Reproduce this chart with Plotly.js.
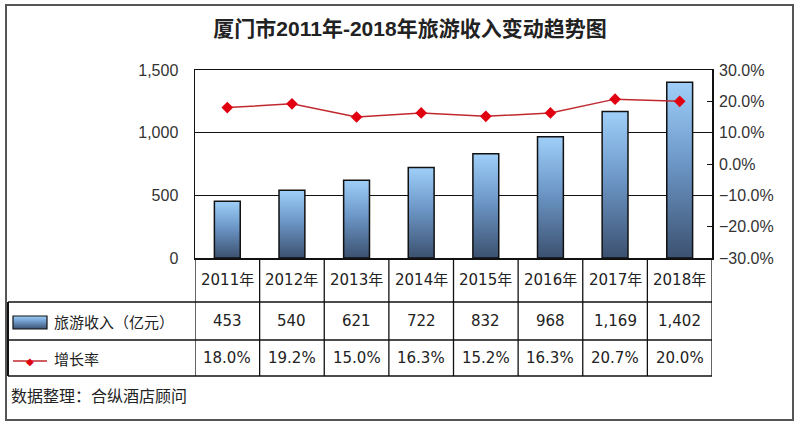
<!DOCTYPE html>
<html>
<head>
<meta charset="utf-8">
<script src="https://cdn.plot.ly/plotly-3.0.1.min.js"></script>
<style>
  body { margin: 0; background: #fff; }
  #chart { width: 800px; height: 427px; }
</style>
</head>
<body>
<div id="chart"></div>
<script>
// data
var years = ["2011年", "2012年", "2013年", "2014年", "2015年", "2016年", "2017年", "2018年"];
var revenue = [453, 540, 621, 722, 832, 968, 1169, 1402];
var growth = [18.0, 19.2, 15.0, 16.3, 15.2, 16.3, 20.7, 20.0];
var revenueName = "旅游收入（亿元）";
var growthName = "增长率";
var titleText = "厦门市2011年-2018年旅游收入变动趋势图";
var sourceText = "数据整理：合纵酒店顾问";

// plot area in pixels
var L = 195, R = 712, T = 70, B = 258;
function px(x) { return (x - L) / (R - L); }
function py(y) { return (B - y) / (B - T); }

var tableFont = { family: "DejaVu Sans, Noto Sans CJK SC", size: 15, color: "#222" };
var cjkFont = { family: "Noto Sans CJK SC", size: 15, color: "#222" };

var rowCat = 280, rowRev = 321, rowGrowth = 358;

var annotations = [];
var shapes = [];

years.forEach(function (yr, i) {
    annotations.push({ x: yr, xref: "x", y: py(rowCat), yref: "paper", text: yr,
        showarrow: false, font: tableFont, xanchor: "center", yanchor: "middle" });
    annotations.push({ x: yr, xref: "x", y: py(rowRev), yref: "paper",
        text: revenue[i].toLocaleString("en-US"),
        showarrow: false, font: tableFont, xanchor: "center", yanchor: "middle" });
    annotations.push({ x: yr, xref: "x", y: py(rowGrowth), yref: "paper",
        text: growth[i].toFixed(1) + "%",
        showarrow: false, font: tableFont, xanchor: "center", yanchor: "middle" });
});

// table grid: vertical lines between categories
for (var k = 0; k <= years.length; k++) {
    shapes.push({ type: "line", xref: "x", yref: "paper", x0: k - 0.5, x1: k - 0.5,
        y0: py(258), y1: py(376), line: { color: "#111", width: 1.3 } });
}
[302, 340, 376].forEach(function (y) {
    shapes.push({ type: "line", xref: "paper", yref: "paper", x0: px(8), x1: px(712),
        y0: py(y), y1: py(y), line: { color: "#111", width: 1.3 } });
});
shapes.push({ type: "line", xref: "paper", yref: "paper", x0: px(8), x1: px(8),
    y0: py(302), y1: py(376), line: { color: "#111", width: 2 } });

// outer frame
shapes.push({ type: "rect", xref: "paper", yref: "paper", x0: px(6), x1: px(793),
    y0: py(5), y1: py(420), line: { color: "#555", width: 2 } });

// legend symbols
var legendRectIndex = shapes.length;
shapes.push({ type: "rect", xref: "paper", yref: "paper", x0: px(13), x1: px(47),
    y0: py(316), y1: py(329), fillcolor: "#6a92c0", line: { color: "#111", width: 1.2 } });
shapes.push({ type: "line", xref: "paper", yref: "paper", x0: px(13), x1: px(47),
    y0: py(361), y1: py(361), line: { color: "#c0282e", width: 1.5 } });
annotations.push({ x: px(30), xref: "paper", y: py(361), yref: "paper", text: "◆",
    showarrow: false, font: { family: "DejaVu Sans", size: 10, color: "#e00010" },
    xanchor: "center", yanchor: "middle" });

annotations.push({ x: px(52), xref: "paper", y: py(rowRev), yref: "paper", text: revenueName,
    showarrow: false, font: cjkFont, xanchor: "left", yanchor: "middle" });
annotations.push({ x: px(52), xref: "paper", y: py(rowGrowth), yref: "paper", text: growthName,
    showarrow: false, font: cjkFont, xanchor: "left", yanchor: "middle" });
annotations.push({ x: px(9), xref: "paper", y: py(395), yref: "paper", text: sourceText,
    showarrow: false, font: { family: "Noto Sans CJK SC", size: 16, color: "#222" },
    xanchor: "left", yanchor: "middle" });

var traces = [{
    type: "bar",
    name: revenueName,
    x: years,
    y: revenue,
    marker: { color: "#6a92c0", line: { color: "#111", width: 1.5 } },
    hoverinfo: "none"
}, {
    type: "scatter",
    mode: "lines+markers",
    name: growthName,
    x: years,
    y: growth,
    yaxis: "y2",
    line: { color: "#c0282e", width: 1.5 },
    marker: { symbol: "diamond", size: 9, color: "#e00010" },
    hoverinfo: "none"
}];

var layout = {
    width: 800,
    height: 427,
    margin: { l: L, r: 800 - R, t: T, b: 427 - B },
    paper_bgcolor: "#fff",
    plot_bgcolor: "#fff",
    showlegend: false,
    bargap: 0.6,
    title: {
        text: titleText,
        x: 410 / 800, xref: "container", y: 1 - 29 / 427, yref: "container",
        xanchor: "center", yanchor: "middle",
        font: { family: "Liberation Sans, Noto Sans CJK SC", size: 21, weight: "bold", color: "#222" }
    },
    xaxis: {
        type: "category",
        range: [-0.5, years.length - 0.5],
        showticklabels: false,
        showgrid: false,
        zeroline: false,
        showline: true,
        mirror: true,
        linecolor: "#111",
        linewidth: 1.5
    },
    yaxis: {
        range: [0, 1500],
        dtick: 500,
        tickformat: ",",
        showgrid: true,
        gridcolor: "#111",
        gridwidth: 1.2,
        zeroline: false,
        showline: true,
        mirror: true,
        linecolor: "#111",
        linewidth: 1.5,
        ticks: "",
        ticklabelstandoff: 12,
        tickfont: { family: "Liberation Sans", size: 16, color: "#333" }
    },
    yaxis2: {
        overlaying: "y",
        side: "right",
        range: [-30, 30],
        dtick: 10,
        tickformat: ".1f",
        ticksuffix: "%",
        showgrid: false,
        zeroline: false,
        showline: false,
        ticks: "inside",
        ticklen: 5,
        tickcolor: "#111",
        ticklabelstandoff: 6,
        tickfont: { family: "Liberation Sans", size: 16, color: "#333" }
    },
    shapes: shapes,
    annotations: annotations
};

Plotly.newPlot("chart", traces, layout, { displayModeBar: false, staticPlot: true }).then(function (gd) {
    // light-to-dark vertical gradient on bars, like the original
    var svg = gd.querySelector(".main-svg");
    var ns = "http://www.w3.org/2000/svg";
    var defs = svg.querySelector("defs");
    var grad = document.createElementNS(ns, "linearGradient");
    grad.setAttribute("id", "barGrad");
    grad.setAttribute("x1", "0"); grad.setAttribute("y1", "0");
    grad.setAttribute("x2", "0"); grad.setAttribute("y2", "1");
    [["0", "#9fcff9"], ["0.45", "#6d98c8"], ["1", "#3c5170"]].forEach(function (s) {
        var stop = document.createElementNS(ns, "stop");
        stop.setAttribute("offset", s[0]);
        stop.setAttribute("stop-color", s[1]);
        grad.appendChild(stop);
    });
    defs.appendChild(grad);
    gd.querySelectorAll(".bars .point path").forEach(function (p) {
        p.style.fill = "url(#barGrad)";
    });
    var grad2 = grad.cloneNode(true);
    grad2.setAttribute("id", "legGrad");
    defs.appendChild(grad2);
    var legendRect = gd.querySelector('.shapelayer path[data-index="' + legendRectIndex + '"]');
    if (legendRect) legendRect.style.fill = "url(#legGrad)";
});
</script>
</body>
</html>
